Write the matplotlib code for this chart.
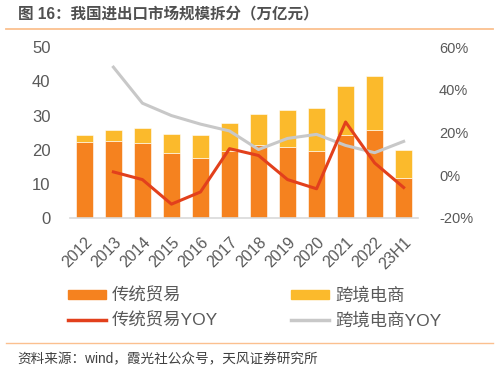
import numpy as np
import matplotlib.pyplot as plt
from matplotlib.patches import Patch
from matplotlib.lines import Line2D

plt.rcParams['font.family'] = ['Liberation Sans', 'Noto Sans CJK SC', 'DejaVu Sans']

years = ["2012", "2013", "2014", "2015", "2016", "2017", "2018", "2019", "2020", "2021", "2022", "23H1"]
trade = [22.3, 22.6, 22.1, 19.1, 17.7, 19.7, 21.4, 20.9, 19.7, 24.4, 25.9, 11.8]
ecom = [2.0, 3.2, 4.3, 5.4, 6.5, 8.0, 9.1, 10.6, 12.4, 14.3, 15.7, 8.1]
trade_yoy = [np.nan, 1.6, -2.0, -13.5, -7.8, 12.5, 9.3, -2.0, -6.3, 25.0, 5.8, -5.7]
ecom_yoy = [np.nan, 50.7, 33.8, 28.0, 24.0, 20.8, 12.1, 17.3, 19.2, 14.0, 10.6, 15.9]

c_trade = "#F5821F"
c_ecom = "#FBBA2C"
c_red = "#E2401C"
c_gray = "#C8C8C8"
c_text = "#595959"

fig = plt.figure(figsize=(4.99, 3.71), dpi=100)
ax = fig.add_axes([0.140, 0.4124, 0.698, 0.4601])
x = np.arange(len(years))

ax.bar(x, trade, width=0.6, color=c_trade, edgecolor="white", linewidth=0.4)
ax.bar(x, ecom, width=0.6, bottom=trade, color=c_ecom, edgecolor="white", linewidth=0.4)
ax.set_xlim(-0.5, len(years) - 0.5)
ax.set_ylim(0, 50)
ax.set_yticks([0, 10, 20, 30, 40, 50])
ax.set_xticks(x)
ax.set_xticklabels(years, rotation=45, ha="right", rotation_mode="anchor")
ax.tick_params(axis="y", length=0, pad=14, labelsize=12, labelcolor=c_text)
ax.tick_params(axis="x", length=0, pad=12, labelsize=11.5, labelcolor=c_text)
for s in ["top", "right", "left"]:
    ax.spines[s].set_visible(False)
ax.spines["bottom"].set_color("#D9D9D9")
ax.spines["bottom"].set_linewidth(1.2)

ax2 = ax.twinx()
ax2.plot(x, ecom_yoy, color=c_gray, linewidth=2.2)
ax2.plot(x, trade_yoy, color=c_red, linewidth=2.2)
ax2.set_ylim(-20, 60)
ax2.set_yticks([-20, 0, 20, 40, 60])
ax2.set_yticklabels(["-20%", "0%", "20%", "40%", "60%"])
ax2.tick_params(axis="y", length=0, pad=15, labelsize=10.5, labelcolor=c_text)
for s in ["top", "right", "left", "bottom"]:
    ax2.spines[s].set_visible(False)

handles = [
    Patch(color=c_trade), Line2D([], [], color=c_red, linewidth=2.5),
    Patch(color=c_ecom), Line2D([], [], color=c_gray, linewidth=2.5),
]
labels = ["传统贸易", "传统贸易YOY", "跨境电商", "跨境电商YOY"]
fig.legend(handles, labels, ncol=2, loc="center", bbox_to_anchor=(0.51, 0.17),
           frameon=False, fontsize=12.5, labelcolor=c_text, handlelength=2.2,
           handleheight=0.45, columnspacing=4.2, handletextpad=0.35, labelspacing=0.5)

fig.text(0.036, 0.962, "图 16：我国进出口市场规模拆分（万亿元）", fontsize=11.2,
         color="#505050", fontweight="bold", va="center")
fig.add_artist(Line2D([0.012, 0.988], [0.921, 0.921], color="#FBC08F", linewidth=1.3))
fig.add_artist(Line2D([0.012, 0.988], [0.076, 0.076], color="#FBC08F", linewidth=1.0))
fig.text(0.034, 0.032, "资料来源：wind，霞光社公众号，天风证券研究所", fontsize=9.8,
         color="#404040", va="center")

fig.savefig("out.png", dpi=100)
